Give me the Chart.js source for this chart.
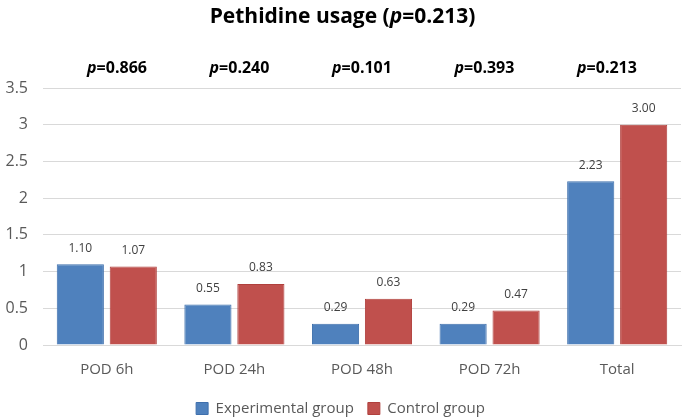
<!DOCTYPE html>
<html>
<head>
<meta charset="utf-8">
<script src="https://cdn.jsdelivr.net/npm/chart.js@4"></script>
<style>
  body { margin: 0; background: #fff; }
  #wrap { width: 685px; height: 420px; }
</style>
</head>
<body>
<div id="wrap"><canvas id="chart"></canvas></div>
<script>
// Data
const categories = ["POD 6h", "POD 24h", "POD 48h", "POD 72h", "Total"];
const experimental = [1.10, 0.55, 0.29, 0.29, 2.23];
const control = [1.07, 0.83, 0.63, 0.47, 3.00];
const pValues = ["0.866", "0.240", "0.101", "0.393", "0.213"];
const titleP = "0.213";

const FONT = "'Open Sans', sans-serif";

// draws "prefix p=value suffix" with italic p
function drawPText(ctx, x, y, prefix, value, suffix, size) {
    const normal = `bold ${size}px ${FONT}`;
    const italic = `italic bold ${size}px ${FONT}`;
    const parts = [
        { t: prefix, f: normal },
        { t: "p", f: italic },
        { t: "=" + value + suffix, f: normal }
    ];
    let total = 0;
    parts.forEach(p => { ctx.font = p.f; total += ctx.measureText(p.t).width; });
    let cx = x - total / 2;
    ctx.textBaseline = "middle";
    ctx.textAlign = "left";
    parts.forEach(p => {
        ctx.font = p.f;
        ctx.fillText(p.t, cx, y);
        cx += ctx.measureText(p.t).width;
    });
}

const annotations = {
    id: "annotations",
    afterDatasetsDraw(chart) {
        const ctx = chart.ctx;
        const xScale = chart.scales.x;
        ctx.save();
        ctx.fillStyle = "#000";
        drawPText(ctx, chart.width / 2, 17, "Pethidine usage (", titleP, ")", 21);

        const mid = (chart.chartArea.left + chart.chartArea.right) / 2;
        pValues.forEach((v, i) => {
            const cx = xScale.getPixelForValue(i);
            drawPText(ctx, mid + (cx - mid) * 0.96, 68, "", v, "", 16);
        });

        // value labels
        ctx.font = `12px ${FONT}`;
        ctx.fillStyle = "#404040";
        ctx.textAlign = "center";
        ctx.textBaseline = "bottom";
        chart.data.datasets.forEach((ds, di) => {
            chart.getDatasetMeta(di).data.forEach((bar, i) => {
                ctx.fillText(ds.data[i].toFixed(2), bar.x, bar.y - 10);
            });
        });
        ctx.restore();
    }
};

new Chart(document.getElementById("chart"), {
    type: "bar",
    data: {
        labels: categories,
        datasets: [
            {
                label: "Experimental group",
                data: experimental,
                backgroundColor: "#4F81BD",
                borderColor: "#3F70AD",
                borderWidth: 1
            },
            {
                label: "Control group",
                data: control,
                backgroundColor: "#C0504D",
                borderColor: "#B0403D",
                borderWidth: 1
            }
        ]
    },
    options: {
        responsive: true,
        maintainAspectRatio: false,
        animation: false,
        layout: { padding: { top: 88, right: 4, left: 0, bottom: -6 } },
        datasets: { bar: { categoryPercentage: 0.83, barPercentage: 0.89 } },
        plugins: {
            title: { display: false },
            tooltip: { enabled: false },
            legend: {
                position: "bottom",
                labels: {
                    boxWidth: 12,
                    boxHeight: 12,
                    padding: 14,
                    color: "#595959",
                    font: { family: FONT, size: 15 }
                }
            }
        },
        scales: {
            x: {
                grid: { display: false },
                border: { display: true, color: "#d9d9d9" },
                ticks: { color: "#595959", font: { family: FONT, size: 15 }, padding: 8 }
            },
            y: {
                min: 0,
                max: 3.5,
                afterFit: scale => { scale.width = 43; },
                ticks: {
                    stepSize: 0.5,
                    color: "#595959",
                    font: { family: FONT, size: 16 },
                    padding: 15,
                    callback: v => String(v)
                },
                grid: { color: "#d9d9d9", drawTicks: false },
                border: { display: false }
            }
        }
    },
    plugins: [annotations]
});
</script>
</body>
</html>
